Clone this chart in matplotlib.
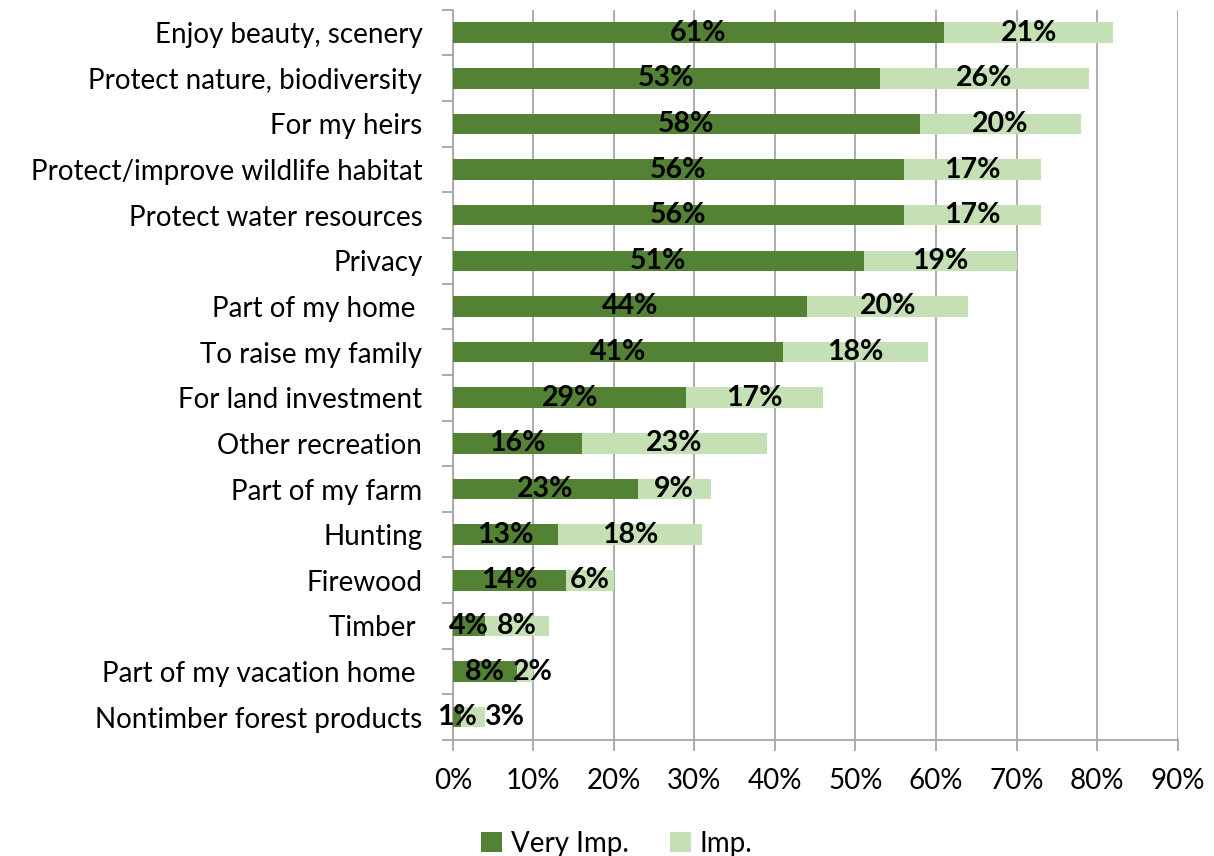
import numpy as np
import matplotlib.pyplot as plt
from matplotlib.ticker import FixedLocator

plt.rcParams['font.family'] = ['Lato', 'DejaVu Sans']

# Reasons for owning land (top to bottom)
categories = ['Enjoy beauty, scenery', 'Protect nature, biodiversity', 'For my heirs',
              'Protect/improve wildlife habitat', 'Protect water resources', 'Privacy',
              'Part of my home ', 'To raise my family', 'For land investment',
              'Other recreation', 'Part of my farm', 'Hunting', 'Firewood', 'Timber ',
              'Part of my vacation home ', 'Nontimber forest products']
very_imp = [61, 53, 58, 56, 56, 51, 44, 41, 29, 16, 23, 13, 14, 4, 8, 1]
imp = [21, 26, 20, 17, 17, 19, 20, 18, 17, 23, 9, 18, 6, 8, 2, 3]

dark = '#548235'
light = '#C5E0B4'
grid_c = '#A6A6A6'

fig = plt.figure(figsize=(12.14, 8.56), dpi=100)
ax = fig.add_axes([0.373, 0.1355, 0.597, 0.853])

n = len(categories)
y = np.arange(n)[::-1]
v = np.array(very_imp)
i_ = np.array(imp)

ax.barh(y, v, height=0.45, color=dark, label='Very Imp.', zorder=3)
ax.barh(y, i_, left=v, height=0.45, color=light, label='Imp.', zorder=3)


def label_w(val):
    # rough label width in data units (% of axis)
    return 4.7 if val < 10 else 6.8


# Data labels centred in each segment, nudged right if they would collide
for yy, a, b in zip(y, v, i_):
    x1 = a / 2
    x2 = max(a + b / 2, x1 + (label_w(a) + label_w(b)) / 2 + 1.2)
    ax.text(x1, yy, f'{a}%', ha='center', va='center', fontsize=20.5,
            fontweight='bold', color='black', zorder=4)
    ax.text(x2, yy, f'{b}%', ha='center', va='center', fontsize=20.5,
            fontweight='bold', color='black', zorder=4)

ax.set_xlim(0, 90)
ax.set_ylim(-0.5, n - 0.5)
ax.set_xticks(np.arange(0, 91, 10))
ax.set_xticklabels([f'{t}%' for t in range(0, 91, 10)], fontsize=20)
ax.grid(axis='x', color=grid_c, linewidth=1.3, zorder=0)

ax.set_yticks(y)
ax.set_yticklabels(categories, fontsize=20)
ax.yaxis.set_minor_locator(FixedLocator(np.arange(-0.5, n, 1)))
ax.tick_params(axis='y', which='major', length=0, pad=22)
ax.tick_params(axis='y', which='minor', length=8, color=grid_c, width=1.3)
ax.tick_params(axis='x', length=8, color=grid_c, width=1.3, pad=12)

for s in ['top', 'right']:
    ax.spines[s].set_visible(False)
for s in ['left', 'bottom']:
    ax.spines[s].set_color(grid_c)
    ax.spines[s].set_linewidth(1.3)

fig.legend(loc='lower center', bbox_to_anchor=(0.508, -0.03), ncol=2, frameon=False,
           fontsize=20, handlelength=0.75, handleheight=0.75, handletextpad=0.3,
           columnspacing=1.5)

fig.savefig('out.png', dpi=100)
